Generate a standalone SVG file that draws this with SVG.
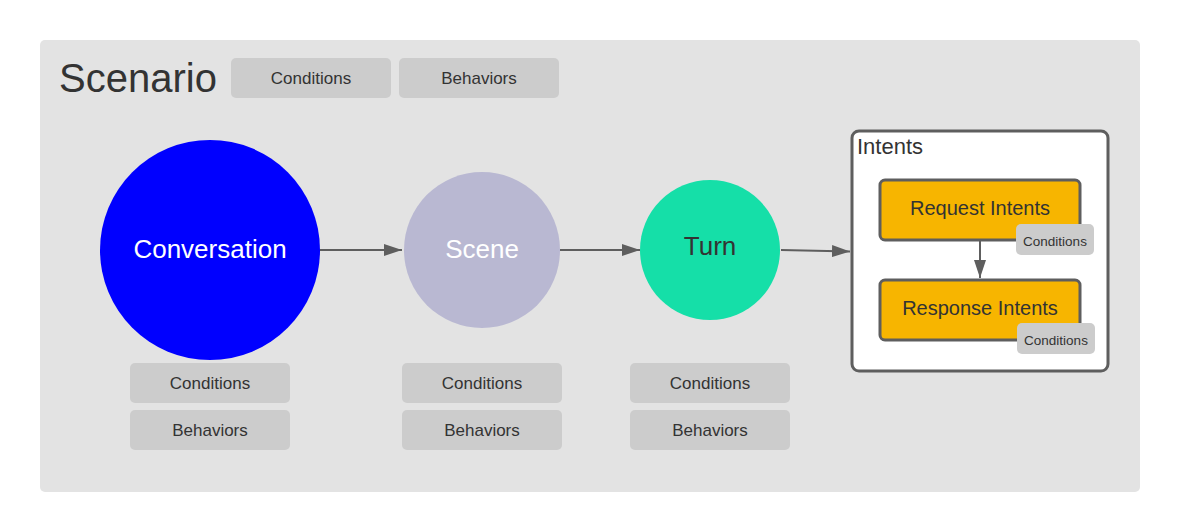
<svg xmlns="http://www.w3.org/2000/svg" width="1180" height="532" viewBox="0 0 1180 532">
<style>
text{font-family:"Liberation Sans",Arial,sans-serif;}
.tag{fill:#cccccc;}
.tagt{font-size:17px;fill:#333333;text-anchor:middle;}
.small{font-size:13.5px;fill:#333333;text-anchor:middle;}
.edge{stroke:#5e5e5e;stroke-width:2;fill:none;}
.intent{fill:#f7b500;stroke:#5e5e5e;stroke-width:3;}
</style>
<defs>
<marker id="ah2" viewBox="0 0 18 12" refX="18" refY="6" markerWidth="18" markerHeight="12" orient="auto" markerUnits="userSpaceOnUse">
<path d="M0,0 L18,6 L0,12 z" fill="#5e5e5e"/>
</marker>
</defs>
<rect width="1180" height="532" fill="#ffffff"/>
<g id="scenario">
<rect x="40" y="40" width="1100" height="452" rx="5" fill="#e3e3e3"/>
<text x="59" y="92" font-size="40" fill="#333333">Scenario</text>
<rect class="tag" x="231" y="58" width="160" height="40" rx="5"/>
<text class="tagt" x="311" y="84">Conditions</text>
<rect class="tag" x="399" y="58" width="160" height="40" rx="5"/>
<text class="tagt" x="479" y="84">Behaviors</text>
</g>
<g id="conversation">
<circle cx="210" cy="250" r="110" fill="#0000ff"/>
<text x="210" y="258" font-size="26" fill="#ffffff" text-anchor="middle">Conversation</text>
<rect class="tag" x="130" y="363" width="160" height="40" rx="5"/>
<text class="tagt" x="210" y="389">Conditions</text>
<rect class="tag" x="130" y="410" width="160" height="40" rx="5"/>
<text class="tagt" x="210" y="436">Behaviors</text>
</g>
<g id="scene">
<circle cx="482" cy="250" r="78" fill="#b9b8d2"/>
<text x="482" y="258" font-size="26" fill="#ffffff" text-anchor="middle">Scene</text>
<rect class="tag" x="402" y="363" width="160" height="40" rx="5"/>
<text class="tagt" x="482" y="389">Conditions</text>
<rect class="tag" x="402" y="410" width="160" height="40" rx="5"/>
<text class="tagt" x="482" y="436">Behaviors</text>
</g>
<g id="turn">
<circle cx="710" cy="250" r="70" fill="#15dfa8"/>
<text x="710" y="255" font-size="26" fill="#333333" text-anchor="middle">Turn</text>
<rect class="tag" x="630" y="363" width="160" height="40" rx="5"/>
<text class="tagt" x="710" y="389">Conditions</text>
<rect class="tag" x="630" y="410" width="160" height="40" rx="5"/>
<text class="tagt" x="710" y="436">Behaviors</text>
</g>
<g id="intents">
<rect x="852" y="131" width="256" height="240" rx="7" fill="#ffffff" stroke="#5e5e5e" stroke-width="3"/>
<text x="857" y="154" font-size="22" fill="#333333">Intents</text>
</g>
<g id="connectors">
<line class="edge" x1="320" y1="250" x2="402" y2="250" marker-end="url(#ah2)"/>
<line class="edge" x1="560" y1="250" x2="640" y2="250" marker-end="url(#ah2)"/>
<line class="edge" x1="781" y1="250" x2="850" y2="251.5" marker-end="url(#ah2)"/>
<line class="edge" x1="980" y1="241" x2="980" y2="278" marker-end="url(#ah2)"/>
</g>
<g id="request-intents">
<rect class="intent" x="880" y="180" width="200" height="60" rx="5"/>
<text x="980" y="215" font-size="20" fill="#333333" text-anchor="middle">Request Intents</text>
<rect class="tag" x="1016" y="224" width="78" height="31" rx="5"/>
<text class="small" x="1055" y="246">Conditions</text>
</g>
<g id="response-intents">
<rect class="intent" x="880" y="280" width="200" height="60" rx="5"/>
<text x="980" y="315" font-size="20" fill="#333333" text-anchor="middle">Response Intents</text>
<rect class="tag" x="1017" y="323" width="78" height="31" rx="5"/>
<text class="small" x="1056" y="345">Conditions</text>
</g>
</svg>
